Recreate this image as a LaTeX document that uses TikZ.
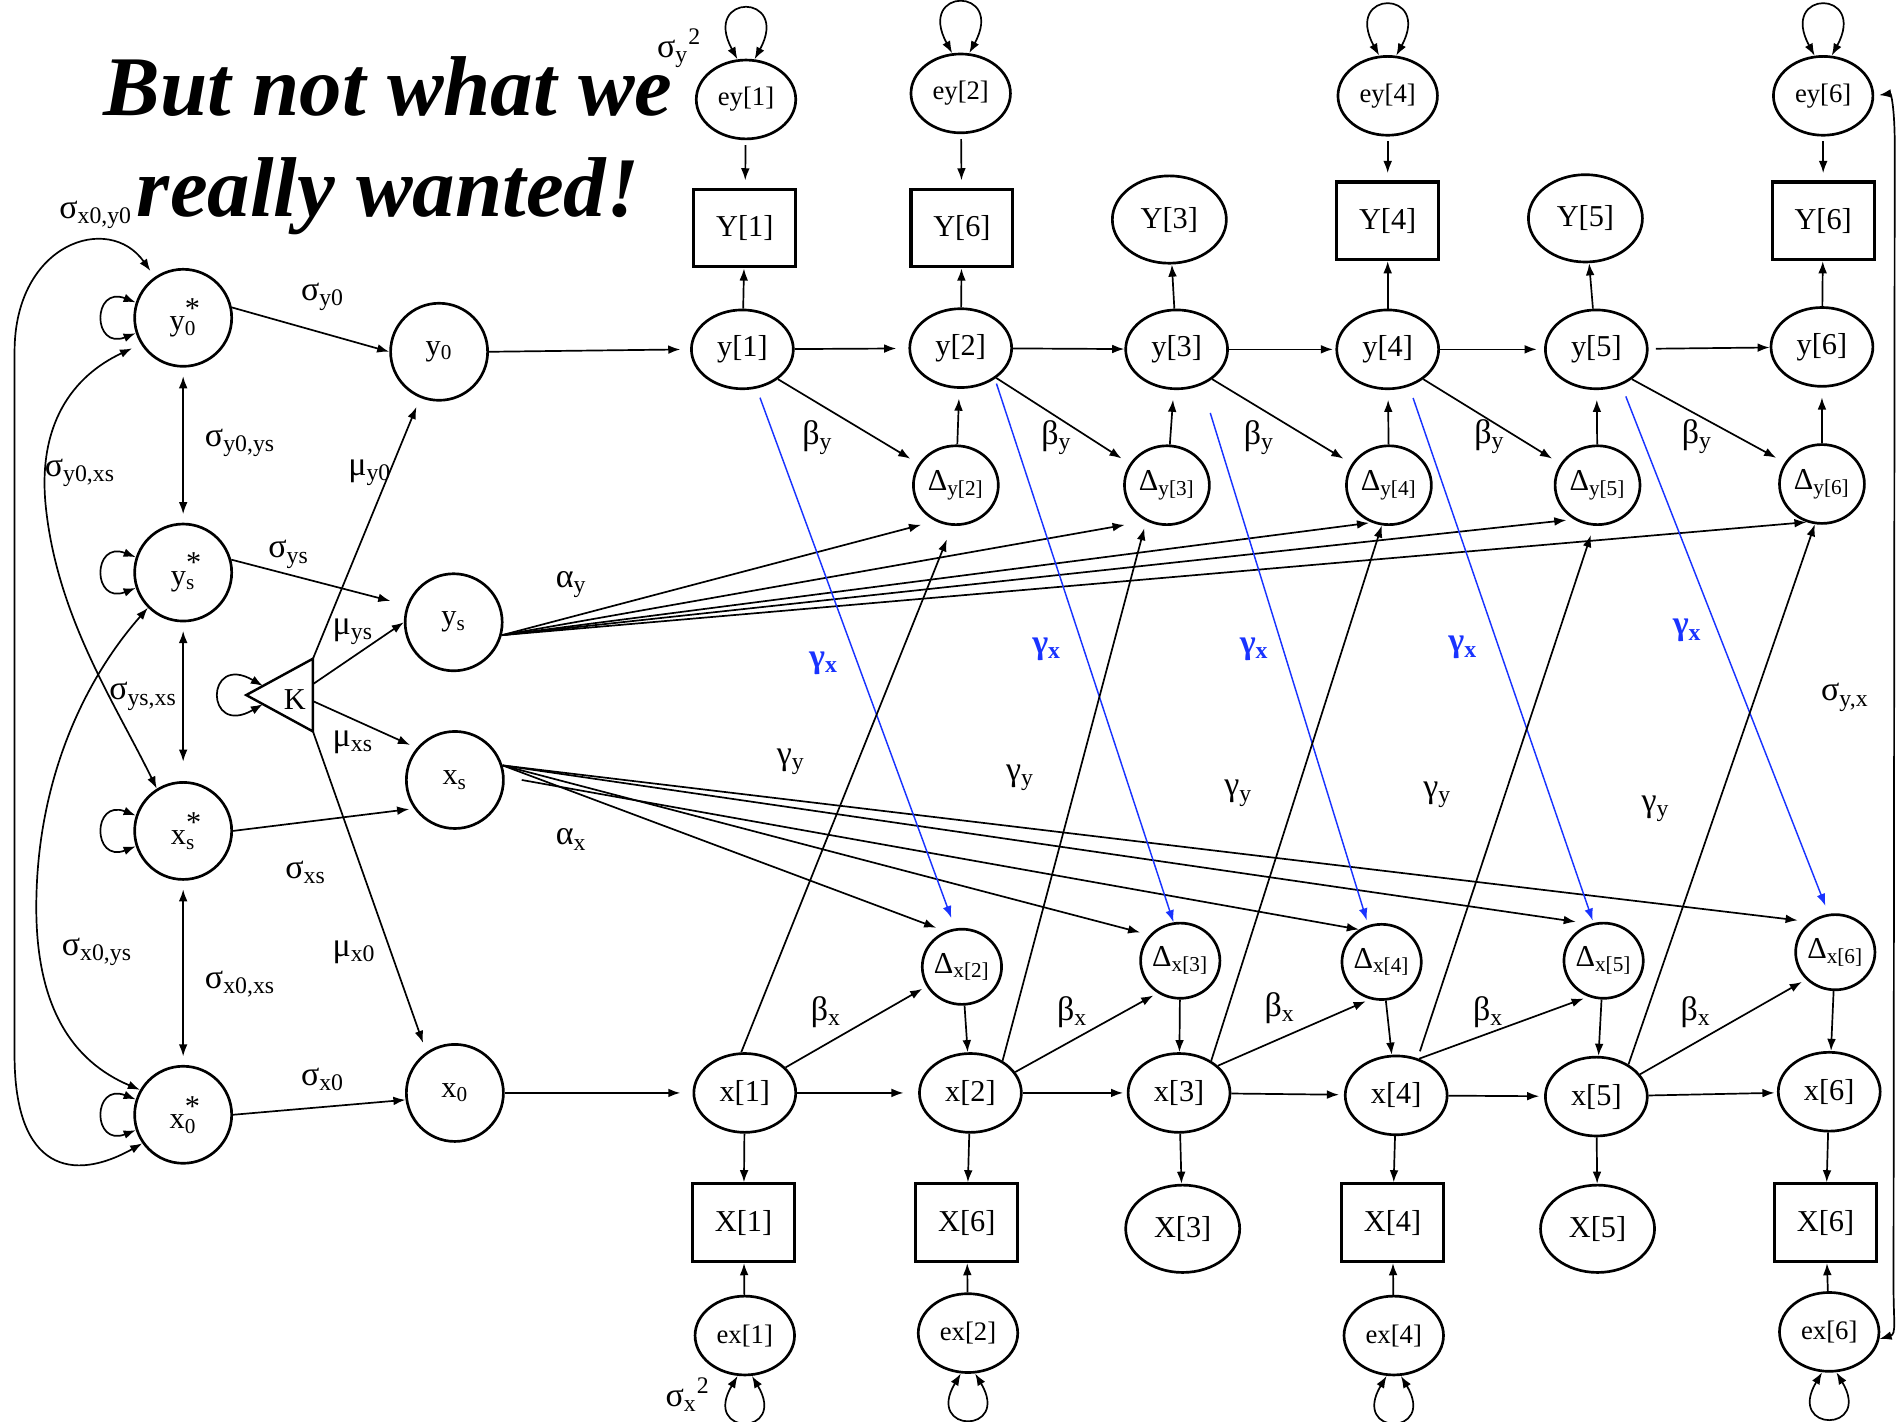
\documentclass[tikz,border=0pt]{standalone}
\usepackage{fontspec}
\setmainfont{Liberation Serif}
\usepackage{tikz}
\usetikzlibrary{positioning,shapes.geometric,calc}
\usetikzlibrary{arrows.meta}
\definecolor{gxblue}{rgb}{0.1,0.2,1.0}
\newcommand{\sx}[1]{\textsubscript{#1}}
\newcommand{\starsub}[1]{\rlap{\raisebox{0.42em}{*}}\textsubscript{#1}}

\begin{document}
\begin{tikzpicture}[
  x = 0.5pt,
  y = -0.5pt,
  line width = 0.7pt,
  font = \fontsize{12.5}{14}\selectfont,
  lat/.style = {
    draw,
    circle,
    line width = 1.1pt,
    minimum size = 40pt,
    inner sep = 0pt,
  },
  state/.style = {
    draw,
    ellipse,
    line width = 1.1pt,
    minimum width = 42pt,
    minimum height = 32.5pt,
    inner sep = 0pt,
  },
  miss/.style = {
    state,
    minimum width = 47pt,
    minimum height = 36pt,
  },
  err/.style = {
    state,
    minimum width = 41pt,
    minimum height = 32.5pt,
    font = \fontsize{11}{13}\selectfont,
  },
  dlty/.style = {
    state,
    minimum width = 35pt,
    minimum height = 32.5pt,
  },
  dltx/.style = {
    state,
    minimum width = 30.5pt,
    minimum height = 31pt,
  },
  obs/.style = {
    draw,
    rectangle,
    line width = 1.3pt,
    minimum width = 42pt,
    minimum height = 32pt,
    inner sep = 0pt,
  },
  lab/.style = {
    inner sep = 0pt,
    font = \fontsize{14}{16}\selectfont,
  },
  glab/.style = {
    lab,
    text = gxblue,
    font = \fontsize{14}{16}\selectfont\bfseries,
  },
  gx/.style = {
    ->,
    draw = gxblue,
    line width = 0.6pt,
  },
  twoway/.style = {
    <->,
    shorten <= 3.5pt,
    shorten >= 3.5pt,
  },
  >={Latex[length=5pt,width=3.6pt]},
]

  \useasboundingbox (0,0) rectangle (1568,1172);

  \node[font=\fontsize{35}{41.5}\selectfont\bfseries\itshape, align=center, inner sep=0pt] (title) at (320,120) {But not what we\\really wanted!};

  %
  \node[lat] (ys0) at (151,262) {y\starsub{0}};
  \node[lat] (yss) at (151,472) {y\starsub{s}};
  \node[lat] (xss) at (151,685) {x\starsub{s}};
  \node[lat] (xs0) at (151,919) {x\starsub{0}};
  \node[lat] (y0) at (362,290) {y\sx{0}};
  \node[lat] (ys) at (374,513) {y\sx{s}};
  \node[lat] (xs) at (375,643) {x\sx{s}};
  \node[lat] (x0) at (375,901) {x\sx{0}};

  \coordinate (Ka) at (203,573);
  \coordinate (Kt) at (258,543);
  \coordinate (Kb) at (258,603);
  \coordinate (Kys) at (258,564);
  \coordinate (Kxs) at (258,578);
  \draw[line width=1pt] (Ka) -- (Kt) -- (Kb) -- cycle;
  \node (K) at (243,577) {K};

  %
  \node[err] (ey1) at (615,82) {ey[1]};
  \node[err] (ey2) at (792,77) {ey[2]};
  \node[err] (ey4) at (1144,79) {ey[4]};
  \node[err] (ey6) at (1503,79) {ey[6]};

  \node[obs] (Y1) at (614,188) {Y[1]};
  \node[obs] (Y2) at (793,188) {Y[6]};
  \node[miss] (Y3) at (964,181) {Y[3]};
  \node[obs] (Y4) at (1144,182) {Y[4]};
  \node[miss] (Y5) at (1307,180) {Y[5]};
  \node[obs] (Y6) at (1503,182) {Y[6]};

  \node[state] (y1) at (612,288) {y[1]};
  \node[state] (y2) at (792,287) {y[2]};
  \node[state] (y3) at (970,288) {y[3]};
  \node[state] (y4) at (1144,288) {y[4]};
  \node[state] (y5) at (1316,288) {y[5]};
  \node[state] (y6) at (1502,286) {y[6]};

  \node[dlty] (dy2) at (788,400) {Δ\sx{y[2]}};
  \node[dlty] (dy3) at (962,400) {Δ\sx{y[3]}};
  \node[dlty] (dy4) at (1145,400) {Δ\sx{y[4]}};
  \node[dlty] (dy5) at (1317,400) {Δ\sx{y[5]}};
  \node[dlty] (dy6) at (1502,399) {Δ\sx{y[6]}};

  %
  \node[dltx] (dx2) at (793,797) {Δ\sx{x[2]}};
  \node[dltx] (dx3) at (973,792) {Δ\sx{x[3]}};
  \node[dltx] (dx4) at (1139,793) {Δ\sx{x[4]}};
  \node[dltx] (dx5) at (1322,792) {Δ\sx{x[5]}};
  \node[dltx] (dx6) at (1513,785) {Δ\sx{x[6]}};

  \node[state] (x1) at (614,901) {x[1]};
  \node[state] (x2) at (800,901) {x[2]};
  \node[state] (x3) at (972,901) {x[3]};
  \node[state] (x4) at (1151,903) {x[4]};
  \node[state] (x5) at (1316,904) {x[5]};
  \node[state] (x6) at (1508,900) {x[6]};

  \node[obs] (X1) at (613,1008) {X[1]};
  \node[obs] (X2) at (797,1008) {X[6]};
  \node[miss] (X3) at (975,1013) {X[3]};
  \node[obs] (X4) at (1148,1008) {X[4]};
  \node[miss] (X5) at (1317,1013) {X[5]};
  \node[obs] (X6) at (1505,1008) {X[6]};

  \node[err] (ex1) at (614,1101) {ex[1]};
  \node[err] (ex2) at (798,1099) {ex[2]};
  \node[err] (ex4) at (1149,1101) {ex[4]};
  \node[err] (ex6) at (1508,1098) {ex[6]};

  % labels
  \node[lab] (lx0y0) at (79,177) {σ\sx{x0,y0}};
  \node[lab] (ly0) at (266,245) {σ\sx{y0}};
  \node[lab] (ly0ys) at (198,365) {σ\sx{y0,ys}};
  \node[lab] (ly0xs) at (66,390) {σ\sx{y0,xs}};
  \node[lab] (lmy0) at (305,390) {μ\sx{y0}};
  \node[lab] (lys) at (238,457) {σ\sx{ys}};
  \node[lab] (lay) at (471,482) {α\sx{y}};
  \node[lab] (lmys) at (291,521) {μ\sx{ys}};
  \node[lab] (lysxs) at (118,574) {σ\sx{ys,xs}};
  \node[lab] (lmxs) at (291,612) {μ\sx{xs}};
  \node[lab] (lax) at (471,692) {α\sx{x}};
  \node[lab] (lxs) at (252,719) {σ\sx{xs}};
  \node[lab] (lx0ys) at (80,785) {σ\sx{x0,ys}};
  \node[lab] (lmx0) at (292,785) {μ\sx{x0}};
  \node[lab] (lx0xs) at (198,811) {σ\sx{x0,xs}};
  \node[lab] (lx0) at (266,890) {σ\sx{x0}};
  \node[lab] (lsy2) at (560,40) {σ\sx{y}\textsuperscript{2}};
  \node[lab] (lsx2) at (567,1150) {σ\sx{x}\textsuperscript{2}};
  \node[lab] (lyx) at (1521,575) {σ\sx{y,x}};

  \node[lab] (by2) at (674,361) {β\sx{y}};
  \node[lab] (by3) at (871,361) {β\sx{y}};
  \node[lab] (by4) at (1038,361) {β\sx{y}};
  \node[lab] (by5) at (1228,360) {β\sx{y}};
  \node[lab] (by6) at (1399,360) {β\sx{y}};

  \node[glab] (gx2) at (679,547) {γ\sx{x}};
  \node[glab] (gx3) at (863,535) {γ\sx{x}};
  \node[glab] (gx4) at (1034,535) {γ\sx{x}};
  \node[glab] (gx5) at (1206,534) {γ\sx{x}};
  \node[glab] (gx6) at (1391,520) {γ\sx{x}};

  \node[lab] (gy2) at (652,628) {γ\sx{y}};
  \node[lab] (gy3) at (841,641) {γ\sx{y}};
  \node[lab] (gy4) at (1021,654) {γ\sx{y}};
  \node[lab] (gy5) at (1185,655) {γ\sx{y}};
  \node[lab] (gy6) at (1365,667) {γ\sx{y}};

  \node[lab] (bx2) at (681,834) {β\sx{x}};
  \node[lab] (bx3) at (884,834) {β\sx{x}};
  \node[lab] (bx4) at (1055,831) {β\sx{x}};
  \node[lab] (bx5) at (1227,834) {β\sx{x}};
  \node[lab] (bx6) at (1398,834) {β\sx{x}};

  % left block
  \draw[->] (ys0.12) -- (y0.west);
  \draw[->,shorten >=7pt] (yss.15) -- (ys.160);
  \draw[->,shorten >=2pt] (xss.east) -- (xs.215);
  \draw[->] (xs0.east) -- (x0.188);
  \draw[twoway] (ys0) -- (yss);
  \draw[twoway,shorten >=8pt] (yss) -- (xss);
  \draw[twoway] (xss) -- (xs0);

  \draw[<->] (ys0.162) .. controls +(-36,-14) and +(-36,14) .. (ys0.198);
  \draw[<->] (yss.162) .. controls +(-36,-14) and +(-36,14) .. (yss.198);
  \draw[<->] (xss.162) .. controls +(-36,-14) and +(-36,14) .. (xss.198);
  \draw[<->] (xs0.162) .. controls +(-36,-14) and +(-36,14) .. (xs0.198);
  \draw[<->] ($(Ka)!0.25!(Kt)$) .. controls +(-48,-28) and +(-48,28) .. ($(Ka)!0.25!(Kb)$);

  \draw[<->,shorten >=3pt] (xs0.215) .. controls (60,975) and (12,965) .. (12,870) -- (12,290) .. controls (12,200) and (90,175) .. (ys0.125);
  \draw[<->,shorten <=4pt] (ys0.212) .. controls (60,310) and (30,350) .. (38,420) .. controls (48,510) and (95,580) .. (xss.122);
  \draw[<->] (yss.225) .. controls (70,560) and (32,640) .. (30,740) .. controls (28,830) and (60,875) .. (xs0.150);

  \draw[->,shorten >=4pt] (Kt) -- (y0);
  \draw[->] (Kys) -- (ys.west);
  \draw[->,shorten >=3pt] (Kxs) -- (xs.140);
  \draw[->,shorten >=4pt] (Kb) -- (x0.125);

  \draw[->,shorten >=4pt] (y0.east) -- (y1.west);
  \draw[->,shorten >=5pt] (x0.east) -- (x1.west);

  % y side
  \draw[->,shorten >=5pt] (y1) -- (y2);
  \draw[->] (y2) -- (y3);
  \draw[->,shorten >=1pt] (y3) -- (y4);
  \draw[->,shorten >=3pt] (y4) -- (y5);
  \draw[->,shorten <=3pt] (y5) -- (y6);

  \draw[->] (y1) -- (Y1);
  \draw[->] (y2) -- (Y2);
  \draw[->] (y3) -- (Y3);
  \draw[->] (y4) -- (Y4);
  \draw[->] (y5) -- (Y5);
  \draw[->] (y6) -- (Y6);

  \draw[->,shorten <=2pt,shorten >=3pt] (ey1) -- (Y1);
  \draw[->,shorten <=2pt,shorten >=3pt] (ey2) -- (Y2);
  \draw[->,shorten <=2pt,shorten >=3pt] (ey4) -- (Y4);
  \draw[->,shorten <=2pt,shorten >=3pt] (ey6) -- (Y6);

  \draw[<->] (ey1.102) .. controls +(-30,-55) and +(30,-55) .. (ey1.78);
  \draw[<->] (ey2.102) .. controls +(-30,-55) and +(30,-55) .. (ey2.78);
  \draw[<->] (ey4.102) .. controls +(-30,-55) and +(30,-55) .. (ey4.78);
  \draw[<->] (ey6.102) .. controls +(-30,-55) and +(30,-55) .. (ey6.78);

  \draw[->,shorten >=4pt] (dy2) -- (y2);
  \draw[->,shorten >=4pt] (dy3) -- (y3);
  \draw[->,shorten >=4pt] (dy4) -- (y4);
  \draw[->,shorten >=4pt] (dy5) -- (y5);
  \draw[->,shorten >=4pt] (dy6) -- (y6);

  \draw[->,shorten >=4pt] (y1.-40) -- (dy2.150);
  \draw[->,shorten >=4pt] (y2.-40) -- (dy3.150);
  \draw[->,shorten >=4pt] (y3.-40) -- (dy4.150);
  \draw[->,shorten >=4pt] (y4.-40) -- (dy5.150);
  \draw[->,shorten >=4pt] (y5.-40) -- (dy6.150);

  \draw[->,shorten >=6pt] (ys.-15) -- (dy2.-120);
  \draw[->,shorten >=9pt] (ys.-15) -- (dy3.-120);
  \draw[->,shorten >=1pt] (ys.-15) -- (dy4.-115);
  \draw[->,shorten >=3pt] (ys.-15) -- (dy5.-125);
  \draw[->] (ys.-15) -- (dy6.-112);

  % x side
  \draw[->,shorten >=6pt] (x1) -- (x2);
  \draw[->,shorten >=1.5pt] (x2) -- (x3);
  \draw[->,shorten >=2pt] (x3) -- (x4);
  \draw[->,shorten >=2pt] (x4) -- (x5);
  \draw[->,shorten >=1pt] (x5) -- (x6);

  \draw[->] (x1) -- (X1);
  \draw[->] (x2) -- (X2);
  \draw[->] (x3) -- (X3);
  \draw[->] (x4) -- (X4);
  \draw[->] (x5) -- (X5);
  \draw[->] (x6) -- (X6);

  \draw[->] (ex1) -- (X1);
  \draw[->] (ex2) -- (X2);
  \draw[->] (ex4) -- (X4);
  \draw[->] (ex6) -- (X6);

  \draw[<->] (ex1.-100) .. controls +(-30,50) and +(30,50) .. (ex1.-80);
  \draw[<->] (ex2.-100) .. controls +(-30,50) and +(30,50) .. (ex2.-80);
  \draw[<->] (ex4.-100) .. controls +(-30,50) and +(30,50) .. (ex4.-80);
  \draw[<->] (ex6.-100) .. controls +(-30,50) and +(30,50) .. (ex6.-80);

  \draw[->] (dx2) -- (x2);
  \draw[->] (dx3) -- (x3);
  \draw[->] (dx4) -- (x4);
  \draw[->] (dx5) -- (x5);
  \draw[->] (dx6) -- (x6);

  \draw[->,shorten >=2pt] (x1.32) -- (dx2.209);
  \draw[->,shorten >=2pt] (x2.25) -- (dx3.235);
  \draw[->,shorten >=2pt] (x3.35) -- (dx4.253);
  \draw[->,shorten >=2pt] (x4.58) -- (dx5.247);
  \draw[->,shorten >=2pt] (x5.27) -- (dx6.223);

  \draw[->,shorten >=4pt] (xs.17) -- (dx2.115);
  \draw[->,shorten >=4pt] (xs.17) -- (dx3.140);
  \draw[->] ([xshift=7pt]xs.east) -- (dx4.125);
  \draw[->,shorten >=6pt] (xs.17) -- (dx5.110);
  \draw[->,shorten >=5pt] (xs.17) -- (dx6.130);

  % cross lags
  \draw[gx,shorten <=4pt,shorten >=4.5pt] (y1.-70) -- (dx2.100);
  \draw[gx,shorten <=2pt] (y2.-42) -- (dx3.100);
  \draw[gx,shorten <=12pt,shorten >=2pt] (y3.-55) -- (dx4.110);
  \draw[gx,shorten <=5pt,shorten >=1pt] (y4.-60) -- (dx5.105);
  \draw[gx,shorten <=5pt,shorten >=3.5pt] (y5.-55) -- (dx6.100);

  \draw[->,shorten >=6pt] (x1.95) -- (dy2.-95);
  \draw[->,shorten >=3pt] (x2.45) -- (dy3.-120);
  \draw[->] (x3.45) -- (dy4.-100);
  \draw[->,shorten <=3pt,shorten >=4pt] (x4.60) -- (dy5.-95);
  \draw[->] (x5.45) -- (dy6.-100);

  \draw[<->,shorten <=2pt] (ey6.east) .. controls +(14,-2) and +(0,-30) .. (1562,120) -- (1561,1060) .. controls +(0,30) and +(14,-4) .. (ex6.-8);

\end{tikzpicture}
\end{document}
